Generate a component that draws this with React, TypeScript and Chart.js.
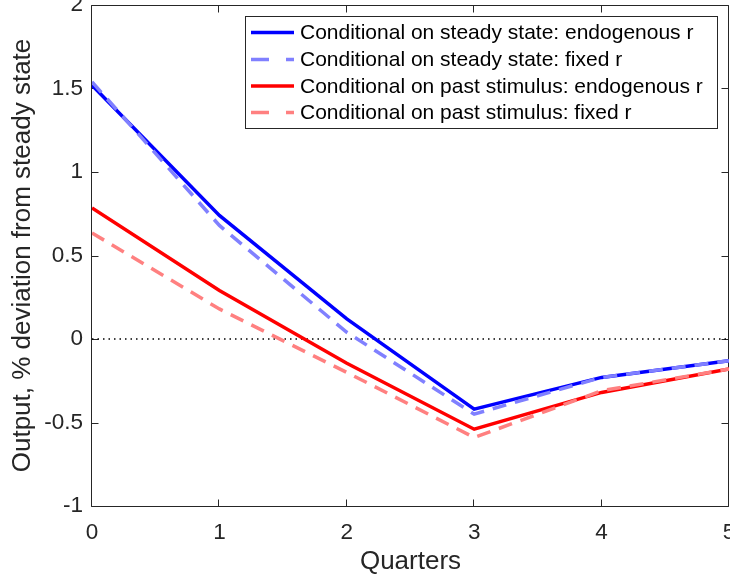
import { useEffect, useRef } from 'react';
import { Chart, registerables } from 'chart.js';

Chart.register(...registerables);

// ---- data ----
const quarters = [0, 1, 2, 3, 4, 5];
const steadyEndog = [1.52, 0.74, 0.12, -0.42, -0.23, -0.13];
const steadyFixed = [1.54, 0.68, 0.04, -0.45, -0.23, -0.13];
const pastEndog = [0.785, 0.29, -0.145, -0.54, -0.32, -0.18];
const pastFixed = [0.635, 0.18, -0.2, -0.59, -0.31, -0.18];
const zeroLineX = [0, 5];
const zeroLineY = [0, 0];
const xTickValues = [0, 1, 2, 3, 4, 5];
const xTickLabels = ['0', '1', '2', '3', '4', '5'];
const yTickValues = [-1, -0.5, 0, 0.5, 1, 1.5, 2];
const yTickLabels = ['-1', '-0.5', '0', '0.5', '1', '1.5', '2'];
const seriesLabels = [
  'Conditional on steady state: endogenous r',
  'Conditional on steady state: fixed r',
  'Conditional on past stimulus: endogenous r',
  'Conditional on past stimulus: fixed r',
];
const xTitle = 'Quarters';
const yTitle = 'Output, % deviation from steady state';

const FONT = '"Liberation Sans", Arial, Helvetica, sans-serif';
const AXIS_COLOR = '#262626';

const toPoints = (xs: number[], ys: number[]) => xs.map((x, i) => ({ x, y: ys[i] }));

const framePlugin = {
  id: 'frameTicks',
  beforeDatasetsDraw(chart: any) {
    const { ctx, chartArea, scales } = chart;
    const { left, right, top, bottom } = chartArea;
    const L = Math.round(left) - 0.5;
    const R = Math.round(right) - 0.5;
    const T = Math.round(top) + 0.5;
    const B = Math.round(bottom) + 0.5;
    ctx.save();
    ctx.strokeStyle = AXIS_COLOR;
    ctx.lineWidth = 1;
    ctx.beginPath();
    ctx.rect(L, T, R - L, B - T);
    const tl = 7;
    for (const v of xTickValues) {
      const px = Math.round(scales.x.getPixelForValue(v)) - 0.5;
      ctx.moveTo(px, B);
      ctx.lineTo(px, B - tl);
      ctx.moveTo(px, T);
      ctx.lineTo(px, T + tl);
    }
    for (const v of yTickValues) {
      const py = Math.round(scales.y.getPixelForValue(v)) + 0.5;
      ctx.moveTo(L, py);
      ctx.lineTo(L + tl, py);
      ctx.moveTo(R, py);
      ctx.lineTo(R - tl, py);
    }
    ctx.stroke();
    ctx.restore();
  },
};

const legendPlugin = {
  id: 'insideLegend',
  afterDatasetsDraw(chart: any) {
    const { ctx } = chart;
    const boxL = 245.5, boxT = 16.5, boxR = 717.5, boxB = 128.5;
    ctx.save();
    ctx.fillStyle = '#ffffff';
    ctx.fillRect(boxL, boxT, boxR - boxL, boxB - boxT);
    ctx.strokeStyle = AXIS_COLOR;
    ctx.lineWidth = 1;
    ctx.strokeRect(boxL, boxT, boxR - boxL, boxB - boxT);
    const rowY = [32.5, 59.5, 86, 112.5];
    const items = chart.data.datasets.filter((d: any) => d.inLegend);
    items.forEach((ds: any, i: number) => {
      const y = rowY[i];
      ctx.beginPath();
      ctx.strokeStyle = ds.borderColor;
      ctx.lineWidth = ds.borderWidth;
      ctx.setLineDash(ds.borderDash && ds.borderDash.length ? [18, 17] : []);
      ctx.moveTo(251, y);
      ctx.lineTo(294, y);
      ctx.stroke();
      ctx.setLineDash([]);
      ctx.fillStyle = '#000000';
      ctx.font = `21px ${FONT}`;
      ctx.textBaseline = 'middle';
      ctx.textAlign = 'left';
      ctx.fillText(ds.label, 300, y + 1);
    });
    ctx.restore();
  },
};

export default function App() {
  const canvasRef = useRef<HTMLCanvasElement | null>(null);

  useEffect(() => {
    const canvas = canvasRef.current;
    if (!canvas) return;
    const chart = new Chart(canvas, {
      type: 'line',
      data: {
        datasets: [
          {
            label: seriesLabels[0],
            inLegend: true,
            data: toPoints(quarters, steadyEndog),
            borderColor: '#0000ff',
            borderWidth: 3.5,
            pointRadius: 0,
            order: 4,
          } as any,
          {
            label: seriesLabels[1],
            inLegend: true,
            data: toPoints(quarters, steadyFixed),
            borderColor: '#8080ff',
            borderWidth: 3.5,
            borderDash: [14, 9],
            pointRadius: 0,
            order: 3,
          } as any,
          {
            label: seriesLabels[2],
            inLegend: true,
            data: toPoints(quarters, pastEndog),
            borderColor: '#ff0000',
            borderWidth: 3.5,
            pointRadius: 0,
            order: 2,
          } as any,
          {
            label: seriesLabels[3],
            inLegend: true,
            data: toPoints(quarters, pastFixed),
            borderColor: '#ff8080',
            borderWidth: 3.5,
            borderDash: [14, 9],
            pointRadius: 0,
            order: 1,
          } as any,
          {
            label: '',
            inLegend: false,
            data: toPoints(zeroLineX, zeroLineY),
            borderColor: '#000000',
            borderWidth: 1.3,
            borderDash: [1.5, 4],
            pointRadius: 0,
            order: 10,
          } as any,
        ],
      },
      options: {
        animation: false,
        responsive: false,
        events: [],
        layout: { padding: { left: 0, right: 1, top: 5, bottom: 0 }, autoPadding: false },
        plugins: { legend: { display: false }, tooltip: { enabled: false } },
        scales: {
          x: {
            type: 'linear',
            min: 0,
            max: 5,
            grid: { display: false, drawTicks: false },
            border: { display: false },
            afterBuildTicks: (scale: any) => {
              scale.ticks = xTickValues.map((v) => ({ value: v }));
            },
            afterFit: (scale: any) => {
              scale.height = 75;
              scale.paddingLeft = 0;
              scale.paddingRight = 0;
            },
            ticks: {
              autoSkip: false,
              maxRotation: 0,
              padding: 13,
              color: AXIS_COLOR,
              font: { family: FONT, size: 22.5 },
              callback: (v: any) => {
                const i = xTickValues.indexOf(Number(v));
                return i >= 0 ? xTickLabels[i] : '';
              },
            },
            title: {
              display: true,
              text: xTitle,
              color: AXIS_COLOR,
              font: { family: FONT, size: 26 },
              padding: { top: 0, bottom: 4 },
            },
          },
          y: {
            type: 'linear',
            min: -1,
            max: 2,
            grid: { display: false, drawTicks: false },
            border: { display: false },
            afterBuildTicks: (scale: any) => {
              scale.ticks = yTickValues.map((v) => ({ value: v }));
            },
            afterFit: (scale: any) => {
              scale.width = 92;
              scale.paddingTop = 0;
              scale.paddingBottom = 0;
            },
            ticks: {
              autoSkip: false,
              padding: 9,
              color: AXIS_COLOR,
              font: { family: FONT, size: 22.5 },
              callback: (v: any) => {
                const i = yTickValues.indexOf(Number(v));
                return i >= 0 ? yTickLabels[i] : '';
              },
            },
            title: {
              display: true,
              text: yTitle,
              color: AXIS_COLOR,
              font: { family: FONT, size: 26 },
              padding: { top: 7, bottom: 0 },
            },
          },
        },
      },
      plugins: [framePlugin, legendPlugin],
    });
    return () => chart.destroy();
  }, []);

  return (
    <div style={{ position: 'fixed', left: 0, top: 0, width: 730, height: 581, background: '#fff' }}>
      <canvas ref={canvasRef} width={730} height={581} style={{ display: 'block' }} />
    </div>
  );
}
